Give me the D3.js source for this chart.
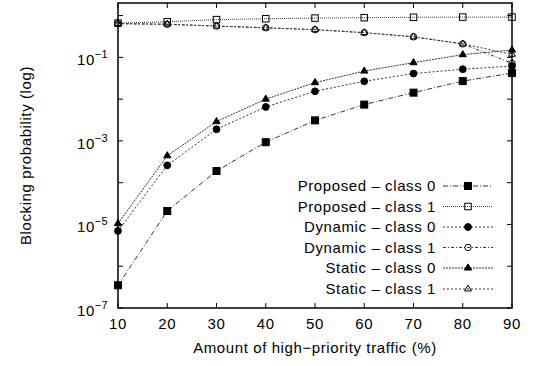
<!DOCTYPE html>
<head>
<meta charset="utf-8">
<style>
body { margin: 0; background: #fff; }
text { font-family: "Liberation Sans", Arial, sans-serif; fill: #000; }
.lbl { font-size: 15px; letter-spacing: 0.6px; }
.series { fill: none; stroke: #333; stroke-width: 1px; }
</style>
</head>
<body>
<script src="https://cdn.jsdelivr.net/npm/d3@7"></script>
<script>
  // data
  var traffic = [10, 20, 30, 40, 50, 60, 70, 80, 90];
  var proposed0 = [3.5e-7, 2.1e-5, 1.9e-4, 9.3e-4, 0.0031, 0.0074, 0.0143, 0.027, 0.042];
  var proposed1 = [0.66, 0.71, 0.80, 0.84, 0.87, 0.89, 0.91, 0.92, 0.92];
  var dynamic0  = [7e-6, 2.6e-4, 0.0019, 0.0065, 0.0154, 0.0267, 0.041, 0.052, 0.062];
  var dynamic1  = [0.64, 0.62, 0.56, 0.51, 0.46, 0.39, 0.31, 0.21, 0.072];
  var static0   = [1.05e-5, 4.4e-4, 0.0029, 0.0100, 0.0248, 0.047, 0.0746, 0.116, 0.15];
  var static1   = [0.64, 0.62, 0.56, 0.51, 0.46, 0.39, 0.31, 0.21, 0.118];
  var seriesNames = ["Proposed \u2013 class 0", "Proposed \u2013 class 1",
                     "Dynamic \u2013 class 0", "Dynamic \u2013 class 1",
                     "Static \u2013 class 0", "Static \u2013 class 1"];
  var xTicks = [10, 20, 30, 40, 50, 60, 70, 80, 90];
  var yExponents = [-7, -6, -5, -4, -3, -2, -1, 0];
  var yLabelled = [-7, -5, -3, -1];

  var W = 537, H = 366;
  // plot box (note: "top" clashes with window.top, so prefixed names)
  var pLeft = 118, pRight = 512, pTop = 3, pBottom = 308;

  var svg = d3.select("body").append("svg")
      .attr("width", W).attr("height", H);

  var x = d3.scaleLinear().domain([10, 90]).range([pLeft, pRight]);
  var y = d3.scaleLog().domain([1e-7, 2]).range([pBottom, pTop]);

  var series = [
    { name: seriesNames[0], values: proposed0, marker: "square", fill: true,  dash: "5,2,1,2" },
    { name: seriesNames[1], values: proposed1, marker: "square", fill: false, dash: "1,1" },
    { name: seriesNames[2], values: dynamic0,  marker: "circle", fill: true,  dash: "2,2" },
    { name: seriesNames[3], values: dynamic1,  marker: "circle", fill: false, dash: "3,2,1,2" },
    { name: seriesNames[4], values: static0,   marker: "triangle", fill: true,  dash: "2,1" },
    { name: seriesNames[5], values: static1,   marker: "triangle", fill: false, dash: "2,2" }
  ];

  // ticks (inward, all four sides)
  var tickLen = 5;
  var g = svg.append("g").attr("stroke", "#000").attr("stroke-width", 1);
  xTicks.forEach(function (t) {
    g.append("line").attr("x1", x(t)).attr("x2", x(t)).attr("y1", pBottom).attr("y2", pBottom - tickLen);
    g.append("line").attr("x1", x(t)).attr("x2", x(t)).attr("y1", pTop).attr("y2", pTop + tickLen);
  });
  yExponents.forEach(function (e) {
    var v = Math.pow(10, e);
    g.append("line").attr("x1", pLeft).attr("x2", pLeft + tickLen).attr("y1", y(v)).attr("y2", y(v));
    g.append("line").attr("x1", pRight).attr("x2", pRight - tickLen).attr("y1", y(v)).attr("y2", y(v));
  });

  // x tick labels
  svg.selectAll("text.xt").data(xTicks).enter().append("text")
      .attr("class", "lbl")
      .attr("x", function (d) { return x(d); })
      .attr("y", pBottom + 21)
      .attr("text-anchor", "middle")
      .text(function (d) { return d; });

  // y tick labels 10^n
  yLabelled.forEach(function (e) {
    var t = svg.append("text")
        .attr("class", "lbl")
        .attr("x", 108)
        .attr("y", y(Math.pow(10, e)) + 8)
        .attr("text-anchor", "end");
    t.append("tspan").text("10");
    t.append("tspan").attr("dy", -7).style("font-size", "11px").style("letter-spacing", "0.3px")
        .text("\u2212" + Math.abs(e));
  });

  // axis titles
  svg.append("text")
      .attr("class", "lbl")
      .attr("x", (pLeft + pRight) / 2)
      .attr("y", 353)
      .attr("text-anchor", "middle")
      .text("Amount of high\u2212priority traffic (%)");
  svg.append("text")
      .attr("class", "lbl")
      .attr("transform", "translate(31," + ((pTop + pBottom) / 2) + ") rotate(-90)")
      .attr("text-anchor", "middle")
      .text("Blocking probability (log)");

  var line = d3.line()
      .x(function (d, i) { return x(traffic[i]); })
      .y(function (d) { return y(d); });

  function drawMarker(sel, type, filled, cx, cy) {
    var m;
    if (type === "square") {
      var s = filled ? 7 : 6.5;
      m = sel.append("rect").attr("x", cx - s / 2).attr("y", cy - s / 2).attr("width", s).attr("height", s);
    } else if (type === "circle") {
      m = sel.append("circle").attr("cx", cx).attr("cy", cy).attr("r", filled ? 3.4 : 3.2);
    } else {
      m = sel.append("path").attr("d", d3.symbol().type(d3.symbolTriangle).size(filled ? 22 : 20)())
          .attr("transform", "translate(" + cx + "," + cy + ")");
    }
    m.attr("fill", filled ? "#000" : "none")
     .attr("stroke", "#000")
     .attr("stroke-width", 1);
  }

  series.forEach(function (s) {
    svg.append("path").attr("class", "series")
        .attr("d", line(s.values))
        .attr("stroke-dasharray", s.dash);
    var mg = svg.append("g");
    s.values.forEach(function (v, i) {
      drawMarker(mg, s.marker, s.fill, x(traffic[i]), y(v));
    });
  });

  // legend
  var legendY = [186, 206.5, 227, 247.5, 268, 289];
  series.forEach(function (s, i) {
    var ly = legendY[i];
    svg.append("text")
        .attr("class", "lbl")
        .attr("x", 436)
        .attr("y", ly + 5)
        .attr("text-anchor", "end")
        .text(s.name);
    svg.append("line").attr("class", "series")
        .attr("x1", 443).attr("x2", 493).attr("y1", ly).attr("y2", ly)
        .attr("stroke-dasharray", s.dash);
    drawMarker(svg, s.marker, s.fill, 468, ly);
  });

  // border
  svg.append("rect")
      .attr("x", pLeft).attr("y", pTop)
      .attr("width", pRight - pLeft).attr("height", pBottom - pTop)
      .attr("fill", "none").attr("stroke", "#000").attr("stroke-width", 1.5);
</script>
</body>
